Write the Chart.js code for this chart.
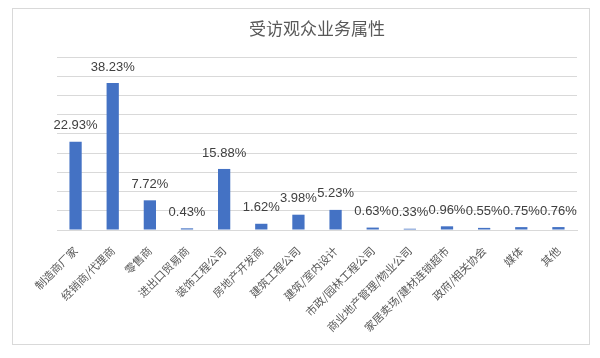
<!DOCTYPE html>
<html><head><meta charset="utf-8">
<script src="https://cdn.jsdelivr.net/npm/chart.js@4"></script>
<style>html,body{margin:0;padding:0;background:#fff;}#wrap{position:absolute;left:0;top:0;width:600px;height:358px;}</style>
</head><body><div id="wrap"><canvas id="c" width="600" height="358"></canvas></div>
<script>
const categories = ["制造商厂家","经销商/代理商","零售商","进出口贸易商","装饰工程公司","房地产开发商","建筑工程公司","建筑/室内设计","市政/园林工程公司","商业地产管理/物业公司","家居卖场/建材连锁超市","政府/相关协会","媒体","其他"];
const values = [22.93,38.23,7.72,0.43,15.88,1.62,3.98,5.23,0.63,0.33,0.96,0.55,0.75,0.76];
const titleText = "受访观众业务属性";
const yTicks = {min:0,max:45,step:5};

const frame = {
  id:'frame',
  beforeDraw(chart){
    const ctx = chart.ctx;
    ctx.save();
    ctx.fillStyle='#fff';
    ctx.fillRect(0,0,chart.width,chart.height);
    ctx.strokeStyle='#d9d9d9';
    ctx.lineWidth=1;
    ctx.strokeRect(12.5,8.5,577,336);
    ctx.restore();
  }
};
const labelsPlugin = {
  id:'vlabels',
  afterDatasetsDraw(chart){
    const ctx = chart.ctx;
    const meta = chart.getDatasetMeta(0);
    ctx.save();
    ctx.font = '13px "Liberation Sans", Arial, sans-serif';
    ctx.fillStyle = '#404040';
    ctx.textAlign = 'center';
    ctx.textBaseline = 'middle';
    meta.data.forEach((bar,i)=>{
      ctx.fillText(values[i].toFixed(2)+'%', bar.x, bar.y-16);
    });
    ctx.restore();
  }
};

const chart = new Chart(document.getElementById('c'), {
  type:'bar',
  data:{labels:categories, datasets:[{data:values, backgroundColor:'#4472C4', barPercentage:0.33, categoryPercentage:1}]},
  options:{
    responsive:false, animation:false,
    layout:{padding:{left:57,right:23,top:0,bottom:22}},
    plugins:{
      legend:{display:false}, tooltip:{enabled:false},
      title:{display:true, text:titleText, color:'#595959', font:{size:17, family:'"Noto Sans CJK SC", sans-serif', weight:'normal'}, padding:{top:18,bottom:18.6}}
    },
    scales:{
      x:{
        grid:{display:false},
        border:{color:'#d9d9d9'},
        ticks:{color:'#595959', maxRotation:45, minRotation:45, autoSkip:false, padding:6, font:{size:11, family:'"Noto Sans CJK SC", sans-serif'}}
      },
      y:{
        min:yTicks.min, max:yTicks.max,
        ticks:{display:false, stepSize:yTicks.step},
        grid:{color:'#d9d9d9', drawTicks:false},
        border:{display:false}
      }
    }
  },
  plugins:[frame, labelsPlugin]
});
const diff = chart.chartArea.bottom - 230;
if (Math.abs(diff) > 0.5) {
  chart.options.layout.padding.bottom = 22 + diff;
  chart.update();
}
</script></body></html>
